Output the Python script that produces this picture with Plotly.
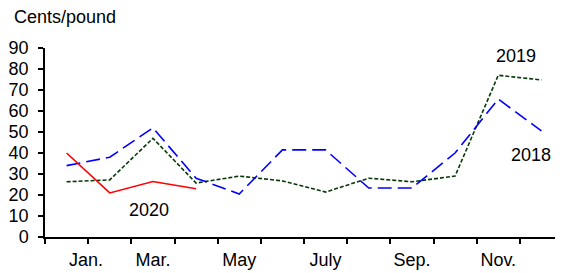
import plotly.graph_objects as go

months = list(range(1, 13))
tick_positions = [1.45, 3, 5, 7, 9, 11]
tick_labels = ["Jan.", "Mar.", "May", "July", "Sep.", "Nov."]

y2018 = [34, 38, 52, 28, 20.5, 41.5, 41.5, 23.3, 23.3, 40, 65.7, 50.5]
y2019 = [26.3, 27.2, 47, 25.7, 29, 26.7, 21.4, 28, 26.3, 29, 77, 74.8]
y2020 = [40, 21, 26.4, 23]

fig = go.Figure()
fig.add_trace(go.Scatter(x=months, y=y2019, mode="lines",
                         line=dict(color="#063806", width=1.6, dash="4px,2px")))
fig.add_trace(go.Scatter(x=months, y=y2018, mode="lines",
                         line=dict(color="#0000ff", width=1.6, dash="14px,6px")))
fig.add_trace(go.Scatter(x=months[:len(y2020)], y=y2020, mode="lines",
                         line=dict(color="#ff0000", width=1.6)))

font = dict(family="Liberation Sans, Arial", size=18, color="black")
fig.add_annotation(x=2.9, y=13, text="2020", showarrow=False, font=font)
fig.add_annotation(x=11.75, y=39, text="2018", showarrow=False, font=font)
fig.add_annotation(x=11.4, y=86, text="2019", showarrow=False, font=font)
fig.add_annotation(xref="paper", yref="paper", x=-0.064, y=1.164, xanchor="left",
                   yanchor="middle", text="Cents/pound", showarrow=False, font=font)

fig.update_layout(
    width=555, height=265,
    margin=dict(l=37, r=0, t=40, b=36),
    paper_bgcolor="white", plot_bgcolor="white",
    showlegend=False,
    font=font,
    xaxis=dict(range=[0.5, 12.5], showgrid=False, zeroline=False,
               showline=True, linecolor="black", linewidth=1.5,
               tickvals=tick_positions, ticktext=tick_labels, ticks="",
               ticklabelstandoff=6, automargin=False,
               minor=dict(tick0=0.5, dtick=1, ticks="outside", ticklen=5,
                          tickcolor="black", tickwidth=1.5, showgrid=False),
               tickfont=font),
    yaxis=dict(range=[0, 90], dtick=10, showgrid=False, zeroline=False,
               showline=True, linecolor="black", linewidth=1.5,
               ticks="outside", ticklen=5, tickwidth=1.5, tickcolor="black",
               ticklabelstandoff=6, automargin=False, tickfont=font),
)

fig.write_html("out.html")
